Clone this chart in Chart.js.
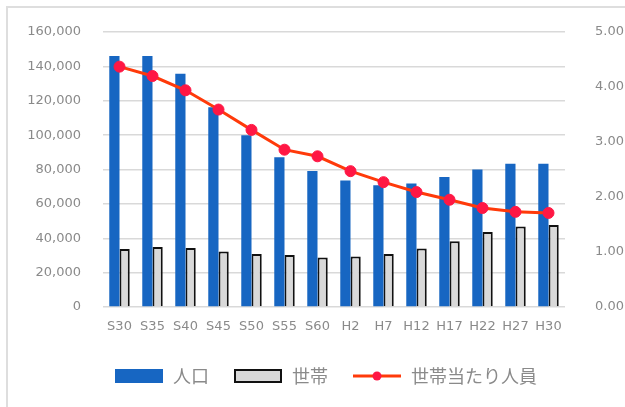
<!DOCTYPE html>
<html>
<head>
<meta charset="utf-8">
<script src="https://cdn.jsdelivr.net/npm/chart.js@4/dist/chart.umd.min.js"></script>
<style>
  html, body { margin: 0; padding: 0; background: #fff; }
  #wrap { position: relative; width: 625px; height: 407px; }
  #frame { position: absolute; left: 6px; top: 6px; right: 0; bottom: 0;
           border-top: 2px solid #dedede; border-left: 2px solid #dedede; }
  canvas { position: absolute; left: 0; top: 0; }
</style>
</head>
<body>
<div id="wrap">
  <div id="frame"></div>
  <canvas id="myChart" width="625" height="407"></canvas>
</div>
<script>
var years = ['S30', 'S35', 'S40', 'S45', 'S50', 'S55', 'S60', 'H2', 'H7', 'H12', 'H17', 'H22', 'H27', 'H30'];
var population = [146000, 146000, 135700, 116200, 99900, 87200, 79200, 73600, 70800, 71800, 75700, 80000, 83300, 83300];
var households = [33700, 34900, 34300, 32300, 30900, 30200, 28800, 29400, 30900, 34000, 38300, 43600, 46900, 47700];
var perHousehold = [4.37, 4.20, 3.94, 3.59, 3.22, 2.86, 2.74, 2.47, 2.27, 2.09, 1.95, 1.80, 1.73, 1.71];

var BLUE = '#1766c2';
var GRAY = '#d9d9d9';
var LINE = '#ff3a0a';
var DOT = '#ff1744';
var TICK = '#8a8a8a';

// small canvases used as legend symbols
function symbol(draw) {
    var c = document.createElement('canvas');
    c.width = 50; c.height = 16;
    draw(c.getContext('2d'));
    return c;
}
var blueSym = symbol(function (g) { g.fillStyle = BLUE; g.fillRect(1, 1, 48, 14); });
var graySym = symbol(function (g) {
    g.fillStyle = GRAY; g.fillRect(2, 2, 46, 12);
    g.strokeStyle = '#111'; g.lineWidth = 2; g.strokeRect(2, 2, 46, 12);
});
var lineSym = symbol(function (g) {
    g.strokeStyle = LINE; g.lineWidth = 3;
    g.beginPath(); g.moveTo(1, 8); g.lineTo(49, 8); g.stroke();
    g.fillStyle = DOT; g.beginPath(); g.arc(25, 8, 4.5, 0, Math.PI * 2); g.fill();
});
var symbols = [blueSym, graySym, lineSym];

var ctx = document.getElementById('myChart');
var myChart = new Chart(ctx, {
    type: 'bar',
    data: {
        labels: years,
        datasets: [{
            label: '人口',
            data: population,
            backgroundColor: BLUE,
            yAxisID: 'y',
            order: 1,
            categoryPercentage: 0.62,
            barPercentage: 1.0
        }, {
            label: '世帯',
            data: households,
            backgroundColor: GRAY,
            borderColor: '#111',
            borderWidth: 2,
            yAxisID: 'y',
            order: 2,
            categoryPercentage: 0.62,
            barPercentage: 1.0
        }, {
            label: '世帯当たり人員',
            type: 'line',
            data: perHousehold,
            borderColor: LINE,
            borderWidth: 3,
            pointRadius: 5.5,
            pointBackgroundColor: DOT,
            pointBorderColor: DOT,
            pointBorderWidth: 1,
            yAxisID: 'y1',
            order: 0,
            fill: false
        }]
    },
    options: {
        responsive: false,
        animation: false,
        layout: { padding: { top: 32, right: 0, left: 26, bottom: 12 } },
        plugins: {
            tooltip: { enabled: false },
            legend: {
                position: 'bottom',
                labels: {
                    usePointStyle: true,
                    pointStyleWidth: 50,
                    boxHeight: 16,
                    color: TICK,
                    padding: 24,
                    font: { family: '"Noto Sans CJK JP", sans-serif', size: 18 },
                    generateLabels: function (chart) {
                        return chart.data.datasets.map(function (ds, i) {
                            return {
                                text: ds.label,
                                pointStyle: symbols[i],
                                fontColor: TICK,
                                datasetIndex: i,
                                lineWidth: 0
                            };
                        });
                    }
                }
            }
        },
        scales: {
            x: {
                grid: { display: false },
                border: { display: false },
                ticks: {
                    color: TICK,
                    padding: 4,
                    maxRotation: 0,
                    autoSkip: false,
                    font: { family: '"DejaVu Sans", sans-serif', size: 13 }
                },
                afterFit: function (s) { s.height = 36; }
            },
            y: {
                position: 'left',
                min: 0,
                max: 160000,
                grid: { color: '#d9d9d9', lineWidth: 1.5, drawTicks: false },
                border: { display: false },
                ticks: {
                    stepSize: 20000,
                    color: TICK,
                    padding: 22,
                    font: { family: '"DejaVu Sans", sans-serif', size: 13 },
                    callback: function (v) { return v.toLocaleString('en-US'); }
                },
                afterFit: function (s) { s.width = 77; }
            },
            y1: {
                position: 'right',
                min: 0,
                max: 5,
                grid: { display: false },
                border: { display: false },
                ticks: {
                    stepSize: 1,
                    color: TICK,
                    padding: 22,
                    font: { family: '"DejaVu Sans", sans-serif', size: 13 },
                    callback: function (v) { return v.toFixed(2); }
                },
                afterFit: function (s) { s.width = 60; }
            }
        }
    }
});
</script>
</body>
</html>
